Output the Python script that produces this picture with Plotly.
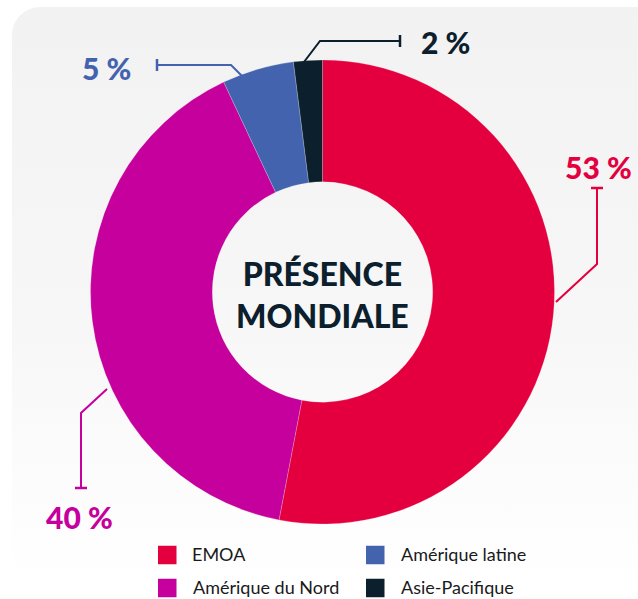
import base64
import plotly.graph_objects as go

# ---- data ----
regions = ["EMOA", "Amérique du Nord", "Amérique latine", "Asie-Pacifique"]
shares = [53, 40, 5, 2]
colors = ["#E4003F", "#C5009C", "#4463AE", "#0B202C"]
center_title = ["PRÉSENCE", "MONDIALE"]

W, H = 638, 599


def px(x):
    return x / W


def py(y):
    return 1 - y / H


# pie geometry (pixels)
cx, cy, R = 322.5, 292, 232

fig = go.Figure(
    go.Pie(
        labels=regions,
        values=shares,
        marker=dict(colors=colors, line=dict(color="rgba(255,255,255,0.35)", width=0.6)),
        hole=0.475,
        sort=False,
        direction="clockwise",
        rotation=0,
        textinfo="none",
        hoverinfo="label+percent",
        showlegend=False,
        domain=dict(x=[px(cx - R), px(cx + R)], y=[py(cy + R), py(cy - R)]),
    )
)

# background rounded panel with vertical gradient
svg = f"""<svg xmlns='http://www.w3.org/2000/svg' width='{W}' height='{H}' viewBox='0 0 {W} {H}'>
<defs><linearGradient id='g' x1='0' y1='0' x2='0' y2='1'>
<stop offset='0' stop-color='#F2F2F2'/><stop offset='0.55' stop-color='#F7F7F7'/><stop offset='1' stop-color='#FFFFFF'/>
</linearGradient></defs>
<rect x='12' y='7' width='660' height='575' rx='28' ry='28' fill='url(#g)'/>
</svg>"""
src = "data:image/svg+xml;base64," + base64.b64encode(svg.encode()).decode()
fig.add_layout_image(
    dict(source=src, xref="paper", yref="paper", x=0, y=1, sizex=1, sizey=1,
         xanchor="left", yanchor="top", sizing="stretch", layer="below")
)

# leader lines and value labels (layout positions in pixels)
label_layout = [
    # (polyline points, cap orientation, cap point, text pos)
    ([(556, 302), (597, 264), (597, 188)], "h", (597, 188), (598, 167)),
    ([(107, 389), (81, 413), (81, 488)], "h", (81, 488), (80, 517)),
    ([(242, 76), (231, 65), (157, 65)], "v", (157, 65), (107, 68)),
    ([(304, 62), (320, 41), (400, 41)], "v", (400, 41), (445, 42)),
]

font_bold = "Lato, 'Open Sans', sans-serif"
for i, (pts, cap, cp, tp) in enumerate(label_layout):
    col = colors[i]
    path = "M " + " L ".join(f"{px(x)},{py(y)}" for x, y in pts)
    fig.add_shape(type="path", path=path, xref="paper", yref="paper",
                  line=dict(color=col, width=2))
    if cap == "h":
        x0, y0, x1, y1 = cp[0] - 6, cp[1], cp[0] + 6, cp[1]
    else:
        x0, y0, x1, y1 = cp[0], cp[1] - 6, cp[0], cp[1] + 6
    fig.add_shape(type="line", xref="paper", yref="paper",
                  x0=px(x0), y0=py(y0), x1=px(x1), y1=py(y1),
                  line=dict(color=col, width=2.5))
    fig.add_annotation(x=px(tp[0]), y=py(tp[1]), xref="paper", yref="paper",
                       text=f"{shares[i]} %", showarrow=False,
                       xanchor="center", yanchor="middle",
                       font=dict(family=font_bold, size=30, weight=900, color=col))

# centre title
fig.add_annotation(x=px(cx), y=py(cy + 2), xref="paper", yref="paper",
                   text="<br>".join(center_title), showarrow=False,
                   xanchor="center", yanchor="middle",
                   font=dict(family=font_bold, size=32, weight=900, color="#0B202C"))

# legend: two columns, filled column by column
sq = 18.5
col_x = [158, 366]
row_y = [555, 588]
for i, name in enumerate(regions):
    c, r = i // 2, i % 2
    x0, yc = col_x[c], row_y[r]
    fig.add_shape(type="rect", xref="paper", yref="paper",
                  x0=px(x0), x1=px(x0 + sq), y0=py(yc - sq / 2), y1=py(yc + sq / 2),
                  fillcolor=colors[i], line=dict(width=0))
    fig.add_annotation(x=px(x0 + sq + 14), y=py(yc - 1), xref="paper", yref="paper",
                       text=name, showarrow=False, xanchor="left", yanchor="middle",
                       font=dict(family="Lato, 'Open Sans', sans-serif", size=18, color="#1A1A1A"))

fig.update_layout(
    width=W, height=H,
    margin=dict(l=0, r=0, t=0, b=0),
    paper_bgcolor="#FFFFFF",
    plot_bgcolor="#FFFFFF",
    showlegend=False,
)

fig.write_html(
    "out.html",
    config={"displayModeBar": False},
    post_script="document.body.style.margin='0';document.body.style.overflow='hidden';",
)
